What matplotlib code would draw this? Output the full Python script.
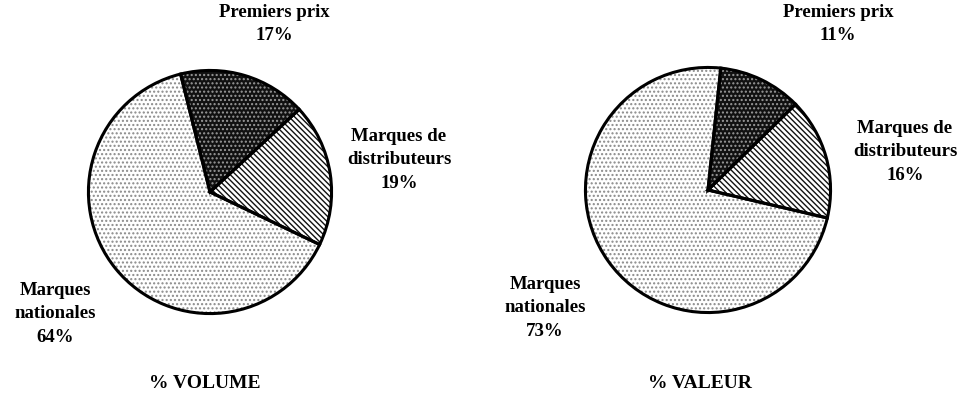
import matplotlib
matplotlib.use("Agg")
import matplotlib.pyplot as plt

categories = ["Premiers prix", "Marques de\ndistributeurs", "Marques\nnationales"]
volume = [17, 19, 64]
valeur = [11, 16, 73]
titles = ["% VOLUME", "% VALEUR"]

W, H = 965, 407
fig = plt.figure(figsize=(W / 100, H / 100), dpi=100)
plt.rcParams['hatch.linewidth'] = 1.0

faces = ["#111111", "white", "white"]
hatches = ["....", "\\\\\\\\\\\\", "...."]
hcolors = ["#9a9a9a", "#111111", "#8a8a8a"]

def px(x, y):
    return x / W, 1 - y / H

def draw(cx, cy, r, vals, start, label_pos, title_pos, title):
    ax = fig.add_axes([(cx - r) / W, (H - cy - r) / H, 2 * r / W, 2 * r / H])
    wedges, _ = ax.pie(vals, startangle=start, counterclock=False, radius=1,
                       wedgeprops=dict(linewidth=0))
    for w, f, h, hc in zip(wedges, faces, hatches, hcolors):
        w.set_facecolor(f)
        w.set_hatch(h)
        w._hatch_color = matplotlib.colors.to_rgba(hc)
    ax.pie(vals, startangle=start, counterclock=False, radius=1,
           wedgeprops=dict(linewidth=2.2, edgecolor="black", facecolor="none"))
    ax.set_xlim(-1.02, 1.02)
    ax.set_ylim(-1.02, 1.02)
    ax.set_aspect("equal")
    ax.axis("off")
    for cat, v, (lx, ly) in zip(categories, vals, label_pos):
        x, y = px(lx, ly)
        fig.text(x, y, f"{cat}\n{v}%", ha="center", va="top",
                 fontsize=13.5, fontweight="bold", family="Liberation Serif",
                 linespacing=1.5)
    x, y = px(*title_pos)
    fig.text(x, y, title, ha="center", va="center", fontsize=14,
             fontweight="bold", family="Liberation Serif")

draw(210, 192, 124, volume, 104,
     [(274, 4), (399, 128), (55, 282)], (205, 383), titles[0])
draw(708, 190, 125, valeur, 84,
     [(838, 4), (905, 120), (545, 276)], (700, 383), titles[1])

fig.savefig("out.png", dpi=100)
